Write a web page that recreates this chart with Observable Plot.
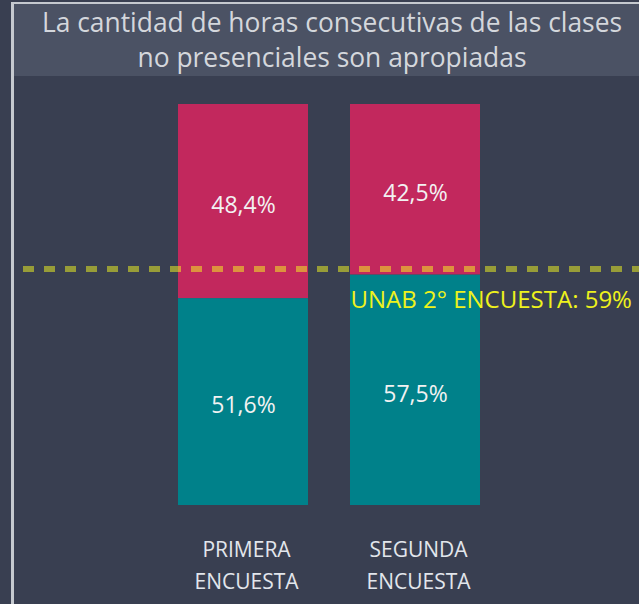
<!DOCTYPE html>
<html>
<head>
<meta charset="utf-8">
<script src="https://cdn.jsdelivr.net/npm/d3@7"></script>
<script src="https://cdn.jsdelivr.net/npm/@observablehq/plot@0.6"></script>
<style>
  html, body { margin: 0; padding: 0; }
  body { width: 639px; height: 604px; background: #393f51; position: relative; overflow: hidden; font-family: "Open Sans", "Noto Sans", sans-serif; }
  #frame { position: absolute; left: 11px; top: 2px; width: 660px; height: 700px; border-left: 3px solid #c5c9cf; border-top: 2px solid #c5c9cf; }
  #title { position: absolute; left: 14px; top: 4px; width: 636px; height: 72px; background: #4b5264; color: #d4d7dc; font-size: 26.4px; line-height: 35px; text-align: center; padding-top: 1px; box-sizing: border-box; }
  #chart { position: absolute; left: 0; top: 76px; }
</style>
</head>
<body>
<div id="frame"></div>
<div id="title">La cantidad de horas consecutivas de las clases<br>no presenciales son apropiadas</div>
<div id="chart"></div>
<script>
const encuestas = ["PRIMERA ENCUESTA", "SEGUNDA ENCUESTA"];
const tickLabels = ["PRIMERA\nENCUESTA", "SEGUNDA\nENCUESTA"];
const respuestas = ["De acuerdo", "En desacuerdo"];
const deAcuerdo = [0.516, 0.575];
const enDesacuerdo = [0.484, 0.425];
const colores = ["#00818a", "#c2285d"];
const refValue = 0.59;
const refLabel = "UNAB 2° ENCUESTA: 59%";

const rows = [];
encuestas.forEach((e, i) => {
  rows.push({encuesta: e, respuesta: respuestas[0], value: deAcuerdo[i]});
  rows.push({encuesta: e, respuesta: respuestas[1], value: enDesacuerdo[i]});
});
const fmt = v => (v * 100).toFixed(1).replace(".", ",") + "%";

const chart = Plot.plot({
  width: 639,
  height: 528,
  marginTop: 28,
  marginBottom: 99,
  marginLeft: 136,
  marginRight: 117,
  style: {background: "transparent", fontFamily: "'Open Sans', 'Noto Sans', sans-serif"},
  x: {domain: encuestas, padding: 0.244, label: null},
  y: {domain: [0, 1], axis: null},
  color: {domain: respuestas, range: colores},
  marks: [
    Plot.barY(rows, {x: "encuesta", y: "value", fill: "respuesta", order: respuestas}),
    Plot.text(rows, Plot.stackY({x: "encuesta", y: "value", z: "respuesta", order: respuestas, text: d => fmt(d.value), fill: "#f2f2f2", fontSize: 23, dy: 4})),
    Plot.ruleY([refValue], {stroke: "#f8fc20", strokeOpacity: 0.5, strokeWidth: 6, strokeDasharray: "11,10", insetLeft: -113, insetRight: -117}),
    Plot.text([refLabel], {x: () => encuestas[1], y: () => refValue, text: d => d, textAnchor: "start", dx: -65, dy: 31, fill: "#eef21c", fontSize: 24}),
    Plot.axisX({tickSize: 0, tickPadding: 29, fontSize: 21, lineHeight: 1.52, dx: 3, color: "#e2e6ec", tickFormat: (d, i) => tickLabels[encuestas.indexOf(d)], label: null})
  ]
});
document.getElementById("chart").appendChild(chart);
</script>
</body>
</html>
